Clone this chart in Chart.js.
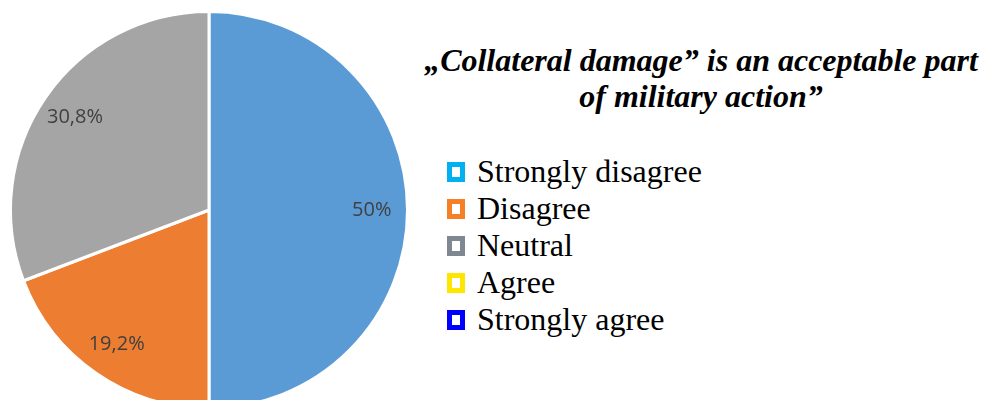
<!DOCTYPE html>
<html>
<head>
<meta charset="utf-8">
<script src="https://cdn.jsdelivr.net/npm/chart.js@4/dist/chart.umd.min.js"></script>
<style>
  body { margin: 0; width: 982px; height: 400px; overflow: hidden; background: #fff; position: relative; }
  #pie-box { position: absolute; left: -1px; top: 0; width: 420px; height: 420px; }
  #title { position: absolute; left: 420px; top: 42px; width: 562px; text-align: center;
    font-family: "Liberation Serif", "Times New Roman", serif; font-weight: bold; font-style: italic;
    font-size: 32px; line-height: 36px; color: #000; }
  #legend { position: absolute; left: 447px; top: 153px;
    font-family: "Liberation Serif", "Times New Roman", serif; font-size: 32px; color: #000; }
  .item { height: 37px; line-height: 37px; white-space: nowrap; }
  .box { display: inline-block; width: 8px; height: 10px; border: 5px solid; background: #fff;
    vertical-align: 0px; margin-right: 12px; }
</style>
</head>
<body>
<div id="pie-box"><canvas id="pie"></canvas></div>
<div id="title">„Collateral damage” is an acceptable part<br>of military action”</div>
<div id="legend"></div>
<script>
var categories = ["Strongly disagree", "Disagree", "Neutral", "Agree", "Strongly agree"];
var shares = [50, 19.2, 30.8, 0, 0];
var sliceColors = ["#5B9BD5", "#ED7D31", "#A5A5A5", "#FFC000", "#4472C4"];
var legendColors = ["#00B0F0", "#F58025", "#7F8790", "#FFE600", "#0000FF"];

function fmt(v) {
	return String(v).replace(".", ",") + "%";
}

// slice labels placed along the middle angle of each arc
var sliceLabels = {
	id: "sliceLabels",
	afterDatasetsDraw: function(chart) {
		var ctx = chart.ctx;
		var arcs = chart.getDatasetMeta(0).data;
		ctx.save();
		ctx.font = "20px 'Open Sans', sans-serif";
		ctx.fillStyle = "#404040";
		ctx.textAlign = "center";
		ctx.textBaseline = "middle";
		arcs.forEach(function(arc, i) {
			var v = chart.data.datasets[0].data[i];
			if (!v) return;
			var mid = (arc.startAngle + arc.endAngle) / 2;
			var r = arc.outerRadius * 0.82;
			ctx.fillText(fmt(v), arc.x + Math.cos(mid) * r, arc.y + Math.sin(mid) * r);
		});
		ctx.restore();
	}
};

var ctx1 = document.getElementById("pie").getContext("2d");
var chart = new Chart(ctx1, {
	type: "pie",
	data: {
		labels: categories,
		datasets: [{
			data: shares,
			backgroundColor: sliceColors,
			borderColor: "#fff",
			borderWidth: 3
		}]
	},
	options: {
		responsive: true,
		maintainAspectRatio: false,
		animation: false,
		layout: { padding: 10 },
		plugins: {
			legend: { display: false },
			tooltip: { enabled: false }
		}
	},
	plugins: [sliceLabels]
});

var html = "";
categories.forEach(function(name, i) {
	html += '<div class="item"><span class="box" style="border-color:' + legendColors[i] + '"></span>' + name + '</div>';
});
document.getElementById("legend").innerHTML = html;
</script>
</body>
</html>
